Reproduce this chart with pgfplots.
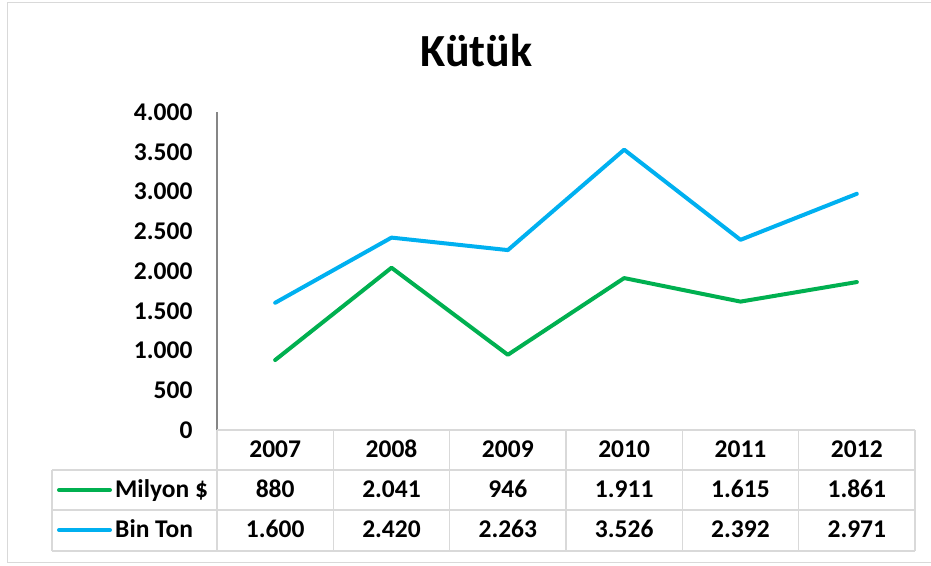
\documentclass[border=0pt]{standalone}
\usepackage{fontspec}
\setmainfont{Carlito}
\usepackage{pgfplots}
\pgfplotsset{compat=1.18}
\definecolor{cgreen}{HTML}{00B050}
\definecolor{cblue}{HTML}{00B0F0}
\definecolor{grid}{HTML}{D9D9D9}
\definecolor{axgray}{HTML}{868686}
\begin{document}
\begin{tikzpicture}
\useasboundingbox (0pt,0pt) rectangle (931pt,565pt);
% outer chart border
\draw[grid, line width=1.5pt] (7.5pt,2.5pt) rectangle (935pt,562.5pt);
% title
\node[anchor=base, font=\fontsize{46}{50}\selectfont\bfseries] at (476.5pt,498pt) {Kütük};
\begin{axis}[
  at={(217pt,135pt)}, anchor=south west,
  width=698pt, height=318pt, scale only axis,
  xmin=-0.5, xmax=5.5, ymin=0, ymax=4000,
  axis x line=none,
  axis y line*=left,
  y axis line style={axgray, line width=1.2pt, -},
  ytick={0,500,...,4000},
  major tick length=0pt,
  scaled y ticks=false,
  /pgf/number format/.cd, 1000 sep={.}, assume math mode=true,
  /pgfplots/.cd,
  yticklabel style={font=\fontsize{25.5}{28}\selectfont\bfseries, anchor=east, xshift=-21pt},
  clip=false,
]
\addplot[cgreen, line width=4pt, line cap=round, line join=round] coordinates {(0,880) (1,2041) (2,946) (3,1911) (4,1615) (5,1861)};
\addplot[cblue, line width=4pt, line cap=round, line join=round] coordinates {(0,1600) (1,2420) (2,2263) (3,3526) (4,2392) (5,2971)};
\end{axis}
% data table
\begin{scope}[x=1pt, y=1pt, grid, line width=1.3pt]
\draw (217,135) -- (915,135);
\draw (52,95) -- (915,95);
\draw (52,55) -- (915,55);
\draw (52,14) -- (915,14);
\draw (52,95) -- (52,14);
\foreach \xx in {217,333.33,449.67,566,682.33,798.67,915} {\draw (\xx,135) -- (\xx,14);}
\end{scope}
\begin{scope}[x=1pt, y=1pt]
\draw[cgreen, line width=4pt, line cap=round] (59,75) -- (110,75);
\draw[cblue, line width=4pt, line cap=round] (59,35) -- (110,35);
\end{scope}
\begin{scope}[x=1pt, y=1pt, every node/.style={font=\fontsize{25.5}{28}\selectfont\bfseries, anchor=base, inner sep=0pt}]
\node[anchor=base west] at (115,68) {Milyon \$};
\node[anchor=base west] at (115,28) {Bin Ton};
\foreach \yr [count=\i from 0] in {2007,2008,2009,2010,2011,2012} {\node at (275.17+116.33*\i,107) {\yr};}
\foreach \v [count=\i from 0] in {880,2.041,946,1.911,1.615,1.861} {\node at (275.17+116.33*\i,68) {\v};}
\foreach \v [count=\i from 0] in {1.600,2.420,2.263,3.526,2.392,2.971} {\node at (275.17+116.33*\i,28) {\v};}
\end{scope}
\end{tikzpicture}
\end{document}
